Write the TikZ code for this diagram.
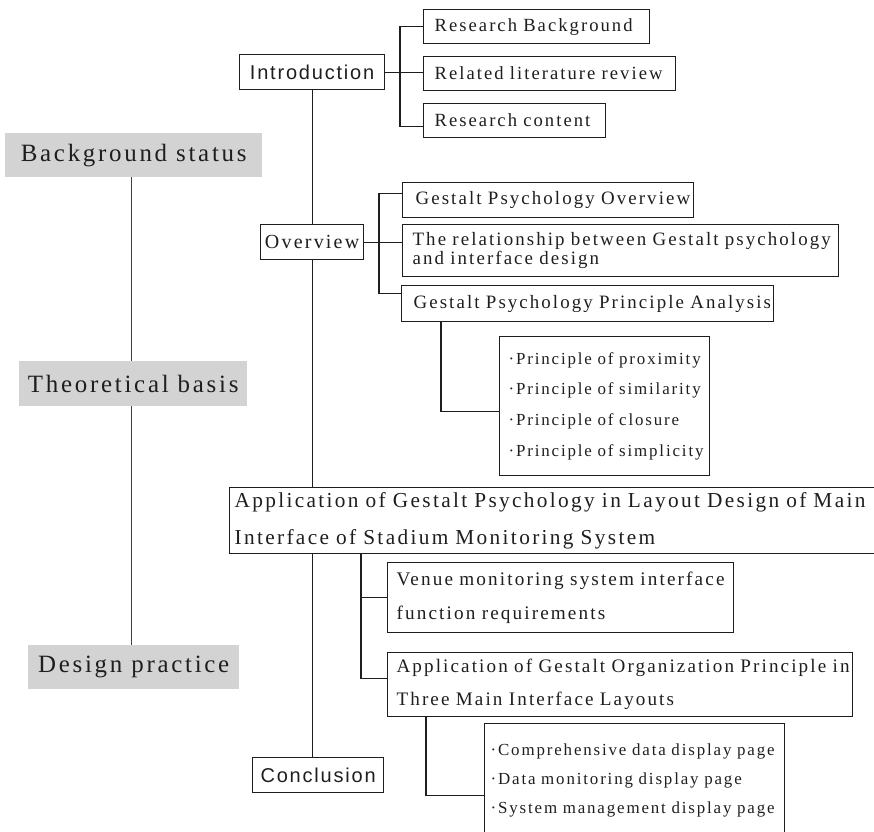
\documentclass[tikz,border=0pt]{standalone}
\usepackage{fontspec}
\newfontfamily\tsp[LetterSpace=11]{Liberation Serif}
\newfontfamily\ssp[LetterSpace=9]{Liberation Sans}
\newcommand\fnBig{\fontsize{24.9}{28}\selectfont\tsp}
\newcommand\fnMid{\fontsize{18.9}{22}\selectfont\tsp}
\newcommand\fnSan{\fontsize{20}{24}\selectfont\ssp}
\newcommand\Ln[1]{\mbox{#1}}
\definecolor{ink}{HTML}{1E1E1E}
\definecolor{graybox}{HTML}{D3D3D3}
\begin{document}
\begin{tikzpicture}[x=1pt,y=-1pt,
  bx/.style={draw=ink, line width=1.2pt, rectangle, inner ysep=0pt, text=ink, anchor=north west, align=left},
  cbx/.style={draw=ink, line width=1.2pt, rectangle, inner sep=0pt, text=ink, anchor=north west, align=center},
  gb/.style={fill=graybox, rectangle, inner sep=0pt, text=ink, anchor=north west, font=\fnBig},
  ln/.style={draw=ink, line width=1.2pt},
  thinln/.style={draw=ink!85, line width=0.9pt}]
\useasboundingbox (0,0) rectangle (874,831);
\clip (0,0) rectangle (874,831);

% left stage labels
\node[gb, minimum width=257pt, minimum height=44pt] (BS) at (5,133) {Background status};
\node[gb, minimum width=228pt, minimum height=45pt] (TB) at (19,361) {Theoretical basis};
\node[gb, minimum width=211pt, minimum height=44pt] (DP) at (28,645) {Design practice};

% main column
\node[cbx, minimum width=145pt, minimum height=35pt, font=\fnSan] (IN) at (239,54) {Introduction};
\node[cbx, minimum width=103pt, minimum height=35pt, font=\fontsize{20}{24}\selectfont\tsp] (OV) at (260,224) {Overview};
\node[cbx, minimum width=131pt, minimum height=35pt, font=\fnSan] (CO) at (252,757) {Conclusion};

% introduction children
\node[bx, inner xsep=11pt, text width=204pt, minimum height=34pt, font=\fontsize{18.6}{22}\selectfont\tsp] (RB) at (423,9) {\Ln{Research Background}};
\node[bx, inner xsep=11pt, text width=230pt, minimum height=34pt, font=\fontsize{18.6}{22}\selectfont\tsp] (RL) at (423,56) {\Ln{Related literature review}};
\node[bx, inner xsep=11pt, text width=160pt, minimum height=34pt, font=\fontsize{18.6}{22}\selectfont\tsp] (RC) at (423,103) {\Ln{Research content}};

% overview children
\node[bx, inner xsep=13pt, text width=265pt, minimum height=35pt, font=\fnMid] (GPO) at (402,182) {\Ln{Gestalt Psychology Overview}};
\node[bx, inner xsep=10pt, text width=416pt, minimum height=52pt, font=\fontsize{18.9}{19.5}\selectfont\tsp] (REL) at (402,224) {\Ln{The relationship between Gestalt psychology}\\\Ln{and interface design}};
\node[bx, inner xsep=12pt, text width=348pt, minimum height=36pt, font=\fnMid] (GPPA) at (401,285) {\Ln{Gestalt Psychology Principle Analysis}};
\node[bx, inner xsep=9pt, text width=192pt, minimum height=139pt, font=\fontsize{16.9}{30.7}\selectfont\tsp] (PR) at (499,336) {\Ln{·Principle of proximity}\\\Ln{·Principle of similarity}\\\Ln{·Principle of closure}\\\Ln{·Principle of simplicity}};

% application block
\node[bx, inner xsep=5pt, text width=650pt, minimum height=66pt, font=\fontsize{21.3}{37}\selectfont\tsp] (BIG) at (229,487) {\Ln{Application of Gestalt Psychology in Layout Design of Main}\\\Ln{Interface of Stadium Monitoring System}};
\node[bx, inner xsep=9pt, text width=328pt, minimum height=70pt, font=\fontsize{19.2}{34}\selectfont\tsp] (VE) at (387,562) {\Ln{Venue monitoring system interface}\\\Ln{function requirements}};
\node[bx, inner xsep=9pt, text width=447pt, minimum height=64pt, font=\fontsize{19.1}{33}\selectfont\tsp] (AO) at (387,652) {\Ln{Application of Gestalt Organization Principle in}\\\Ln{Three Main Interface Layouts}};
\node[bx, inner xsep=6pt, text width=288pt, minimum height=114pt, font=\fontsize{16.9}{29}\selectfont\tsp] (PG) at (484,723) {\Ln{·Comprehensive data display page}\\\Ln{·Data monitoring display page}\\\Ln{·System management display page}};

% junction coordinates
\coordinate (jL) at (131,0);
\coordinate (jI) at (400,0);
\coordinate (jO) at (379,0);
\coordinate (jP) at (441,0);
\coordinate (jB) at (361,0);
\coordinate (jA) at (426,0);

% left spine
\draw[thinln] (BS.south -| jL) -- (TB.north -| jL);
\draw[thinln] (TB.south -| jL) -- (DP.north -| jL);

% main spine
\draw[ln] (IN.south) -- (OV.north);
\draw[ln] (OV.south) -- (OV.south |- BIG.north);
\draw[ln] (OV.south |- BIG.south) -- (OV.south |- CO.north);

% introduction branch
\draw[ln] (IN.east) -- (IN.east -| RL.west);
\draw[ln] (RB.west) -- (RB.west -| jI) -- ([yshift=-6pt]RC.west -| jI) -- ([yshift=-6pt]RC.west);

% overview branch
\draw[ln] (OV.east) -- (OV.east -| REL.west);
\draw[ln] ([yshift=6.5pt]GPO.west) -- ([yshift=6.5pt]GPO.west -| jO) -- ([yshift=10pt]GPPA.west -| jO) -- ([yshift=10pt]GPPA.west);
\draw[ln] (GPPA.south -| jP) |- ([yshift=-5.5pt]PR.west);

% application branch
\draw[ln] (BIG.south -| jB) |- ([yshift=6pt]AO.west);
\draw[ln] (VE.west -| jB) -- (VE.west);
\draw[ln] (AO.south -| jA) |- ([yshift=-15pt]PG.west);
\end{tikzpicture}
\end{document}
